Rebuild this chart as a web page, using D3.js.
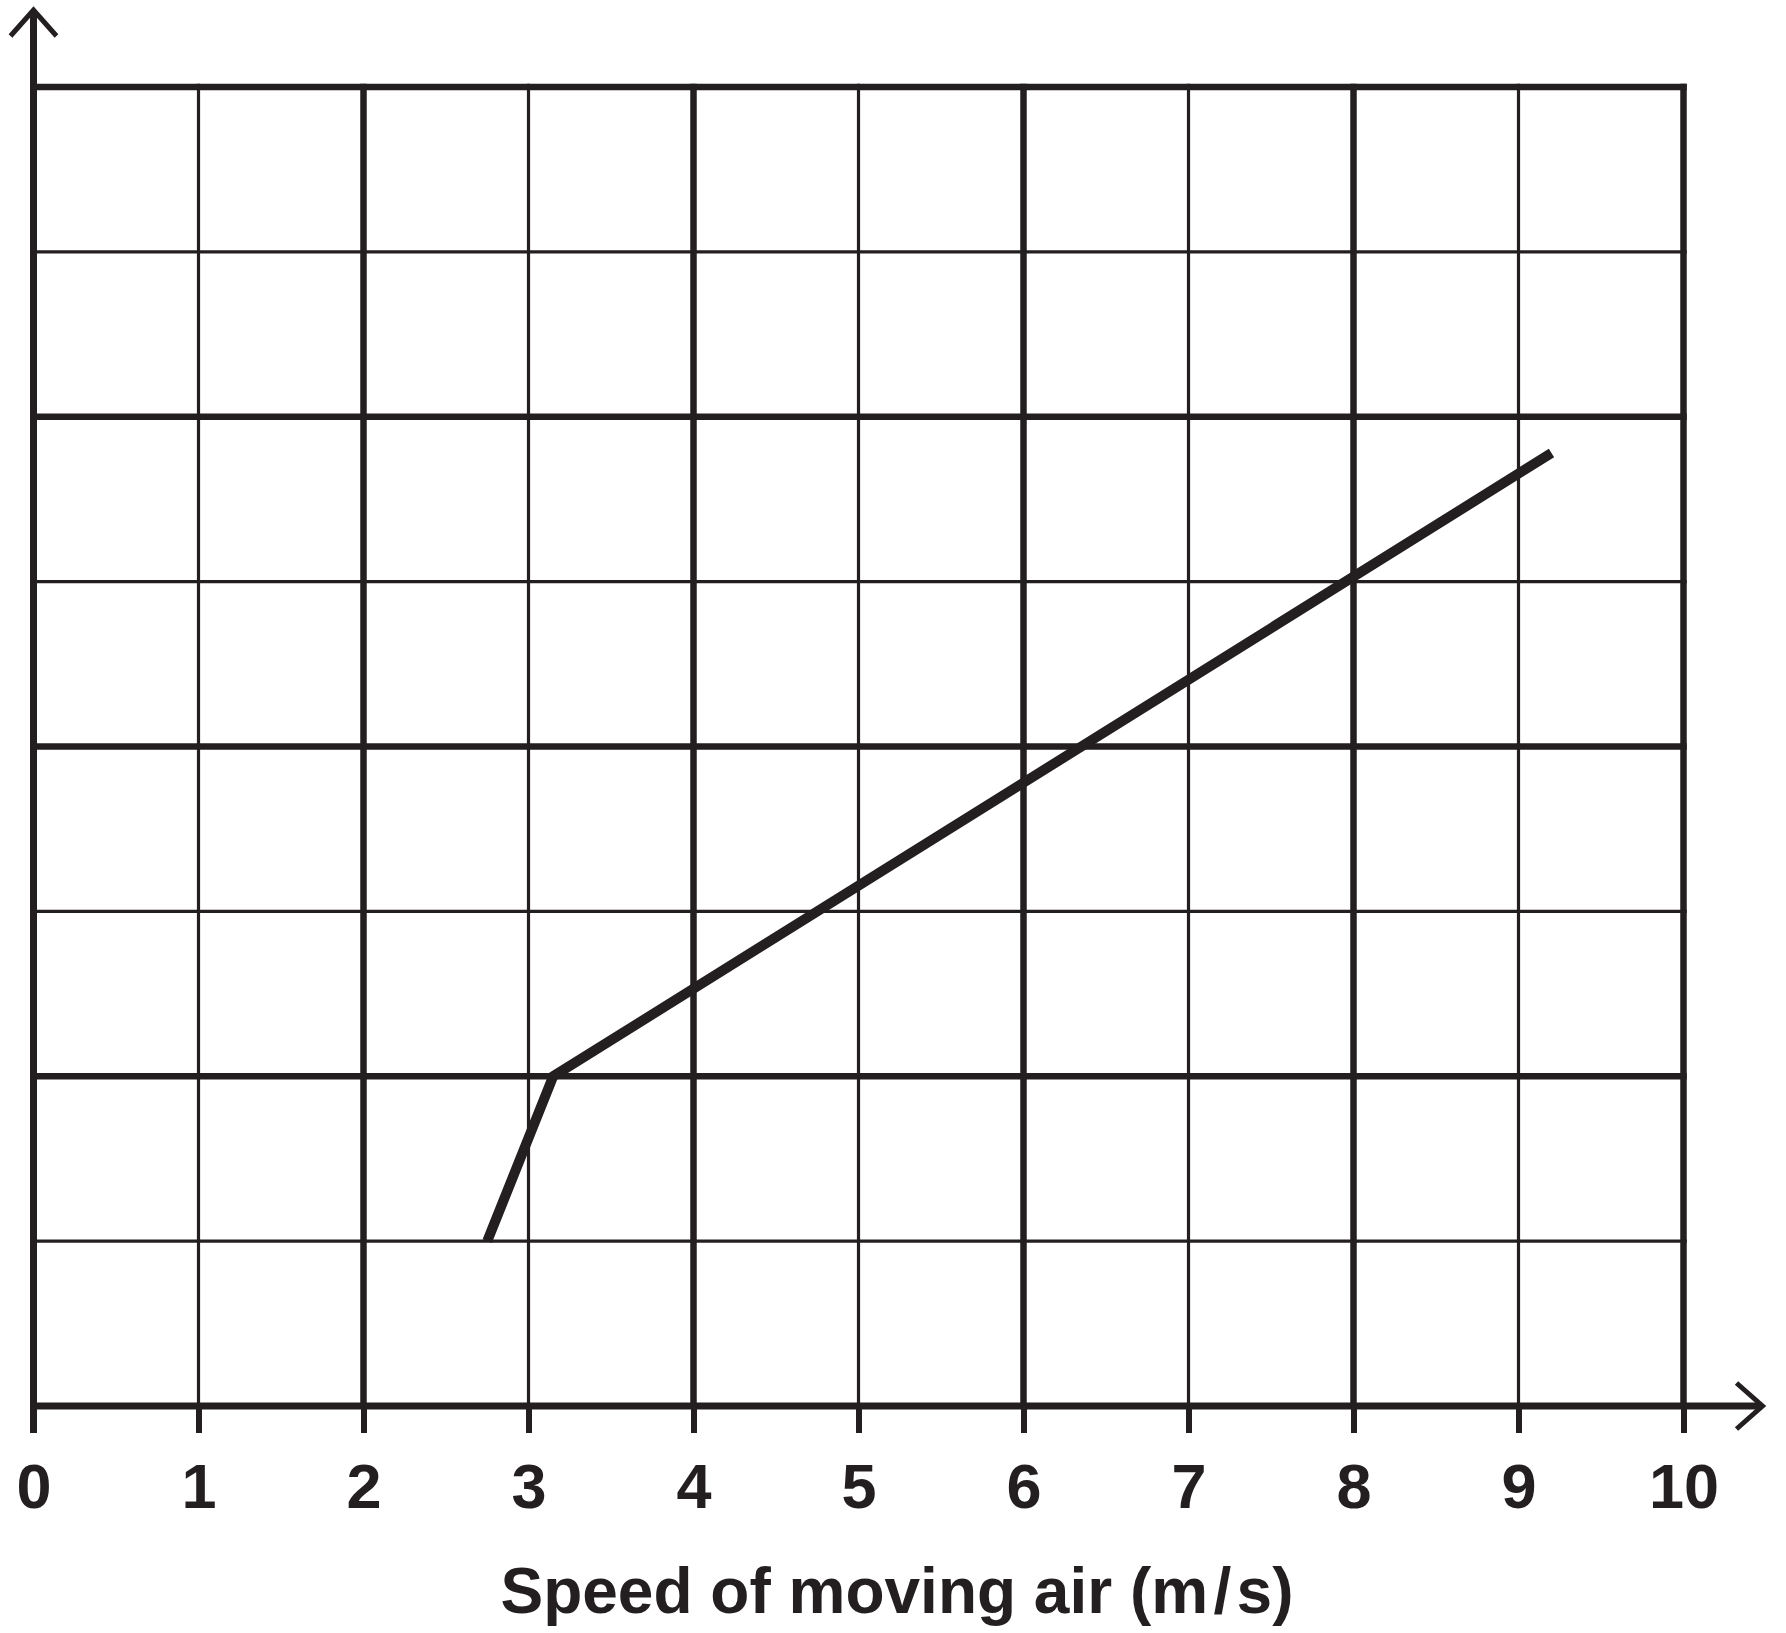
<!DOCTYPE html>
<html>
<head>
<meta charset="utf-8">
<script src="https://cdn.jsdelivr.net/npm/d3@7"></script>
<style>
  html, body { margin: 0; padding: 0; background: #fff; }
  svg { display: block; }
</style>
</head>
<body>
<div id="chart"></div>
<script>
// data
const xTicks = [0, 1, 2, 3, 4, 5, 6, 7, 8, 9, 10];
const yGrid = [0, 1, 2, 3, 4, 5, 6, 7, 8];
const speed = [2.75, 3.15, 9.2];
const value = [1.0, 2.0, 5.78];
const xLabel = "Speed of moving air (m\u200A/\u200As)";

const ink = "#231f20";
const W = 1786, H = 1633;

const svg = d3.select("#chart")
  .append("svg")
  .attr("width", W)
  .attr("height", H);

// scales
const x = d3.scaleLinear().domain([0, 10]).range([33.5, 1683.5]);
const y = d3.scaleLinear().domain([0, 8]).range([1406, 87]);

const thick = 6.5, thin = 3.2;

// vertical grid lines
svg.append("g")
  .selectAll("line")
  .data(xTicks.filter(d => d > 0))
  .enter()
  .append("line")
  .attr("x1", d => x(d))
  .attr("x2", d => x(d))
  .attr("y1", y(8) - thick / 2)
  .attr("y2", y(0))
  .attr("stroke", ink)
  .attr("stroke-width", d => d % 2 === 0 ? thick : thin);

// horizontal grid lines
svg.append("g")
  .selectAll("line")
  .data(yGrid.filter(d => d > 0))
  .enter()
  .append("line")
  .attr("x1", x(0))
  .attr("x2", x(10) + thick / 2)
  .attr("y1", d => y(d))
  .attr("y2", d => y(d))
  .attr("stroke", ink)
  .attr("stroke-width", d => d % 2 === 0 ? thick : thin);

// x axis with ticks and labels
const xAxis = svg.append("g")
  .attr("transform", `translate(0,${y(0)})`)
  .call(d3.axisBottom(x).tickValues(xTicks).tickSize(27).tickPadding(30).tickFormat(d3.format("d")));

xAxis.select(".domain").remove();
xAxis.selectAll(".tick line")
  .attr("stroke", ink)
  .attr("stroke-width", 6);
xAxis.selectAll(".tick text")
  .attr("fill", ink)
  .style("font-family", "Liberation Sans, Arial, sans-serif")
  .style("font-weight", "bold")
  .style("font-size", "63px");

// axis lines
const axisW = 7;
svg.append("line")
  .attr("x1", x(0) - axisW / 2)
  .attr("x2", x(10) + 78)
  .attr("y1", y(0))
  .attr("y2", y(0))
  .attr("stroke", ink)
  .attr("stroke-width", axisW);

svg.append("line")
  .attr("x1", x(0))
  .attr("x2", x(0))
  .attr("y1", y(0) + 27)
  .attr("y2", y(8) - 76)
  .attr("stroke", ink)
  .attr("stroke-width", axisW);

// arrow heads
const xTip = x(10) + 79, yTip = y(8) - 77;
svg.append("path")
  .attr("d", `M${xTip - 26},${y(0) - 23} L${xTip},${y(0)} L${xTip - 26},${y(0) + 23}`)
  .attr("fill", "none")
  .attr("stroke", ink)
  .attr("stroke-width", 5);

svg.append("path")
  .attr("d", `M${x(0) - 23},${yTip + 26} L${x(0)},${yTip} L${x(0) + 23},${yTip + 26}`)
  .attr("fill", "none")
  .attr("stroke", ink)
  .attr("stroke-width", 5);

// data line
const pts = speed.map((s, i) => ({ s, v: value[i] }));
const line = d3.line()
  .x(d => x(d.s))
  .y(d => y(d.v));

svg.append("path")
  .datum(pts)
  .attr("fill", "none")
  .attr("stroke", ink)
  .attr("stroke-width", 10)
  .attr("stroke-linejoin", "miter")
  .attr("d", line);

// axis title
svg.append("text")
  .attr("x", 897)
  .attr("y", 1613)
  .attr("text-anchor", "middle")
  .attr("fill", ink)
  .style("font-family", "Liberation Sans, Arial, sans-serif")
  .style("font-weight", "bold")
  .style("font-size", "64px")
  .text(xLabel);
</script>
</body>
</html>
